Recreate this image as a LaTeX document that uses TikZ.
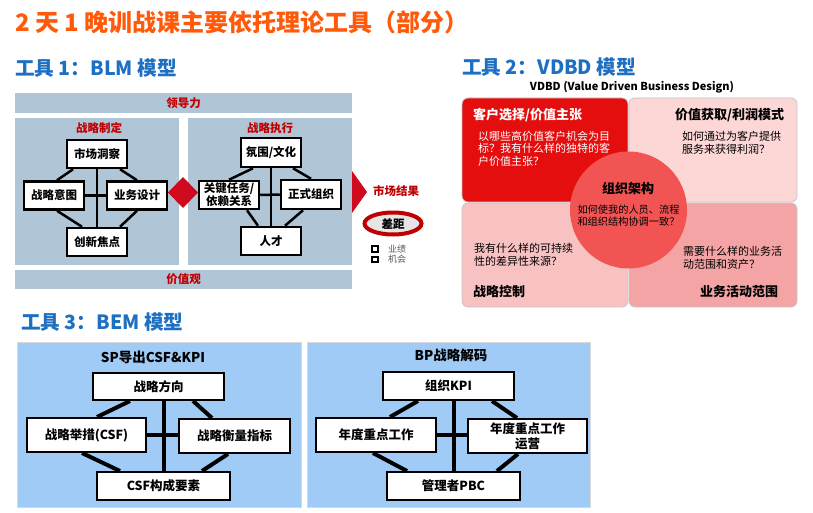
\documentclass[tikz,border=0pt]{standalone}
\usepackage{fontspec}
\setmainfont{Noto Sans CJK SC}
\usetikzlibrary{shapes.geometric}
\definecolor{ttlorange}{HTML}{FF5A0A}
\definecolor{ttlblue}{HTML}{1D6FC2}
\definecolor{blmbg}{HTML}{B0C5D5}
\definecolor{blmred}{HTML}{C00000}
\definecolor{dmdred}{HTML}{D00A1E}
\definecolor{qonec}{HTML}{E50E0E}
\definecolor{qtwoc}{HTML}{FDD6D6}
\definecolor{qthreec}{HTML}{F9C2C2}
\definecolor{qfourc}{HTML}{F4A4A4}
\definecolor{circc}{HTML}{F25454}
\definecolor{bemc}{HTML}{9FCBF6}
\tikzset{
  fs/.style={font=\fontsize{#1}{#1}\selectfont},
  bfs/.style={font=\fontsize{#1}{#1}\selectfont\bfseries},
  ttl/.style={anchor=west, text=ttlblue, bfs=19.6, inner sep=0},
  blmbar/.style={fill=blmbg, minimum width=337, minimum height=20, inner sep=0, text=blmred, bfs=11.5},
  blmpanel/.style={fill=blmbg, minimum width=164, minimum height=147, inner sep=0},
  blmhead/.style={text=blmred, bfs=11.5, inner sep=0},
  blmbox/.style={draw=black, line width=2.5, fill=white, minimum width=60, minimum height=28, inner sep=0, bfs=11.5, align=center},
  blmline/.style={line width=2.5, black},
  legsq/.style={draw=black, line width=1.6, minimum size=5.5, inner sep=0},
  legtxt/.style={text=black!65, fs=9, inner sep=0},
  quad/.style={draw=black!22, line width=0.8, rounded corners=6, minimum width=166, minimum height=104, inner sep=0},
  qhead/.style={bfs=13, anchor=west, inner sep=0},
  qbody/.style={anchor=west, align=left, inner sep=0, font=\fontsize{11}{12.6}\selectfont},
  bempanel/.style={fill=bemc, draw=black!15, line width=0.6, minimum width=284, minimum height=165, inner sep=0},
  bemhead/.style={bfs=13.5, inner sep=0},
  bembox/.style={draw=black, line width=2, fill=white, inner sep=0, bfs=12.5, align=center},
  bemline/.style={line width=4, black},
}
\begin{document}
\begin{tikzpicture}[x=1pt,y=-1pt]
\useasboundingbox (0,0) rectangle (813,513);
\fill[white] (0,0) rectangle (813,513);
% titles
\node[anchor=west, text=ttlorange, bfs=24, inner sep=0] (title) at (15,22) {2 天 1 晚训战课主要依托理论工具（部分）};
\node[ttl] (t1) at (15,68) {工具 1：BLM 模型};
\node[ttl] (t2) at (462,67) {工具 2：VDBD 模型};
\node[ttl] (t3) at (21,322) {工具 3：BEM 模型};

% ---------- BLM ----------
\node[blmbar] (lead) at (183.5,103) {领导力};
\node[blmbar, minimum height=19] (value) at (183.5,279.5) {价值观};
\node[blmpanel] (lp) at (96.5,191.5) {};
\node[blmpanel] (rp) at (270,191.5) {};
\node[blmhead] (lph) at (99,128) {战略制定};
\node[blmhead] (rph) at (270,128) {战略执行};

\node[blmbox] (mk) at (97,154) {市场洞察};
\node[blmbox] (zl) at (54,195.5) {战略意图};
\node[blmbox] (yw) at (137,195.5) {业务设计};
\node[blmbox] (cx) at (97,242) {创新焦点};
\draw[blmline] (mk.south) -- (cx.north);
\draw[blmline] (zl.east) -- (yw.west);
\draw[blmline] ([xshift=-24]mk.south) -- ([xshift=3]zl.north);
\draw[blmline] ([xshift=23]mk.south) -- (yw.north);
\draw[blmline] ([xshift=3]zl.south) -- ([xshift=-15]cx.north);
\draw[blmline] (yw.south) -- ([xshift=23]cx.north);

\node[blmbox, minimum height=29] (fw) at (271,152.5) {氛围/文化};
\node[blmbox, font=\fontsize{11.5}{13}\selectfont\bfseries] (gj) at (229,195) {关键任务/\\依赖关系};
\node[blmbox, minimum height=29] (zz) at (311,194.5) {正式组织};
\node[blmbox] (rc) at (271,241) {人才};
\draw[blmline] (fw.south) -- (rc.north);
\draw[blmline] (gj.east) -- (zz.west);
\draw[blmline] ([xshift=-18]fw.south) -- (gj.north);
\draw[blmline] ([xshift=22]fw.south) -- (zz.north);
\draw[blmline] ([xshift=18]gj.south) -- ([xshift=-13]rc.north);
\draw[blmline] ([xshift=-8]zz.south) -- ([xshift=14]rc.north);

\fill[dmdred] (183,177) -- (198,192.5) -- (183,208) -- (168,192.5) -- cycle;
\fill[dmdred] (352,171) -- (367,192) -- (352,213) -- cycle;
\node[blmhead] (mr) at (396,191) {市场结果};
\node[ellipse, draw=blmred, line width=4, fill=black!10, minimum width=57, minimum height=22, inner sep=0, bfs=11.5] (gap) at (393,223.5) {差距};
\node[legsq] (s1) at (375,249) {};
\node[legsq] (s2) at (375,259.5) {};
\node[legtxt] (l1) at (397,249) {业绩};
\node[legtxt] (l2) at (397,259.5) {机会};

% ---------- VDBD ----------
\node[bfs=11, inner sep=0] (vt) at (632,87) {VDBD (Value Driven Business Design)};
\node[quad, fill=qonec] (q1) at (545,150) {};
\node[quad, fill=qtwoc, minimum width=168] (q2) at (713,150) {};
\node[quad, fill=qthreec] (q3) at (545,255) {};
\node[quad, fill=qfourc, minimum width=168] (q4) at (713,255) {};
\node[circle, fill=circc, minimum size=117, inner sep=0] (org) at (628.5,210) {};

\node[qhead, text=white] (h1) at (473,115) {客户选择/价值主张};
\node[qbody, text=white] (b1) at (478,148.5) {以哪些高价值客户机会为目\\标？我有什么样的独特的客\\户价值主张？};
\node[qhead] (h2) at (675,115) {价值获取/利润模式};
\node[qbody] (b2) at (682,142.5) {如何通过为客户提供\\服务来获得利润？};
\node[bfs=13, inner sep=0] (oh) at (628,189) {组织架构};
\node[align=center, inner sep=0, font=\fontsize{10.2}{12}\selectfont] (ob) at (628.5,216) {如何使我的人员、流程\\和组织结构协调一致？};
\node[qbody] (b3) at (474,255) {我有什么样的可持续\\性的差异性来源？};
\node[qhead] (h3) at (473,292) {战略控制};
\node[qbody] (b4) at (683,258) {需要什么样的业务活\\动范围和资产？};
\node[qhead] (h4) at (700,292) {业务活动范围};

% ---------- BEM ----------
\node[bempanel] (bp1) at (159,424.5) {};
\node[bempanel, minimum width=283] (bp2) at (448.5,424.5) {};
\node[bemhead] (bh1) at (153,357) {SP导出CSF\&KPI};
\node[bemhead] (bh2) at (451,355) {BP战略解码};

\node[bembox, minimum width=131, minimum height=27] (fx) at (158.5,386.5) {战略方向};
\node[bembox, minimum width=119, minimum height=34] (jc) at (86.5,435) {战略举措(CSF)};
\node[bembox, minimum width=111, minimum height=34] (hl) at (234.5,436) {战略衡量指标};
\node[bembox, minimum width=133, minimum height=28] (gc) at (163.5,486) {CSF构成要素};
\draw[bemline] (fx.south -| gc.north) -- (gc.north);
\draw[bemline] (jc.east) -- (jc.east -| hl.west);
\draw[bemline] ([xshift=-28.5]fx.south) -- ([xshift=10.5]jc.north);
\draw[bemline] ([xshift=34.5]fx.south) -- ([xshift=-22.5]hl.north);
\draw[bemline] ([xshift=-4.5]jc.south) -- ([xshift=-43.5]gc.north);
\draw[bemline] ([xshift=-6.5]hl.south) -- ([xshift=38.5]gc.north);

\node[bembox, minimum width=131, minimum height=28] (kpi) at (448.5,386) {组织KPI};
\node[bembox, minimum width=120, minimum height=34] (nd) at (376,435) {年度重点工作};
\node[bembox, minimum width=119, minimum height=34, font=\fontsize{12.5}{15}\selectfont\bfseries] (ny) at (527.5,436) {年度重点工作\\运营};
\node[bembox, minimum width=133, minimum height=28] (pbc) at (453.5,486) {管理者PBC};
\draw[bemline] (kpi.south -| pbc.north) -- (pbc.north);
\draw[bemline] (nd.east) -- (nd.east -| ny.west);
\draw[bemline] ([xshift=-30.5]kpi.south) -- ([xshift=14]nd.north);
\draw[bemline] ([xshift=43.5]kpi.south) -- ([xshift=-10.5]ny.north);
\draw[bemline] ([xshift=-3]nd.south) -- ([xshift=-46.5]pbc.north);
\draw[bemline] ([xshift=-9.5]ny.south) -- ([xshift=43.5]pbc.north);
\end{tikzpicture}
\end{document}
